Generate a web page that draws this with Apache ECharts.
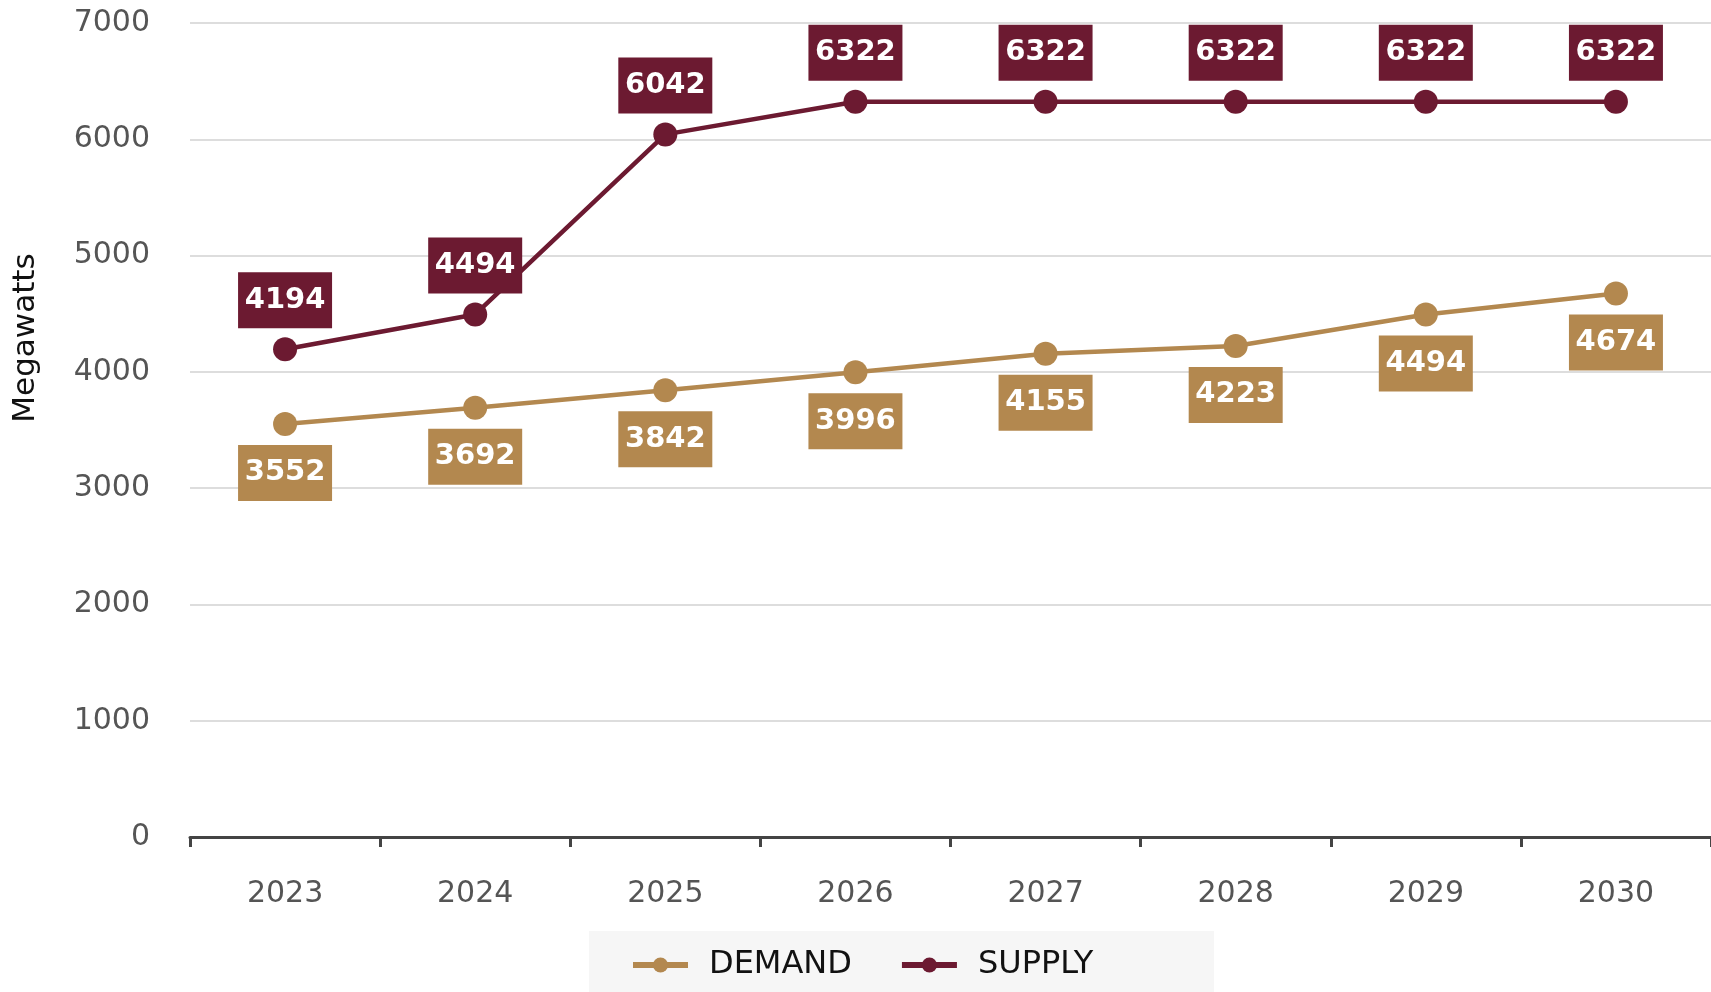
<!DOCTYPE html>
<html>
<head>
<meta charset="utf-8">
<script src="https://cdn.jsdelivr.net/npm/echarts@6/dist/echarts.min.js"></script>
<style>
html,body{margin:0;padding:0;background:#fff;}
#chart{width:1711px;height:992px;}
</style>
</head>
<body>
<div id="chart"></div>
<script>
const years = ['2023','2024','2025','2026','2027','2028','2029','2030'];
const demand = [3552, 3692, 3842, 3996, 4155, 4223, 4494, 4674];
const supply = [4194, 4494, 6042, 6322, 6322, 6322, 6322, 6322];
const yTicks = { min: 0, max: 7000, interval: 1000 };

const demandColor = '#b3884f';
const supplyColor = '#6c1a31';
const fontFamily = 'DejaVu Sans, sans-serif';

const chart = echarts.init(document.getElementById('chart'));
function labelCfg(color, pos) {
  return {
    show: true,
    position: pos,
    distance: 9,
    backgroundColor: color,
    color: '#fff',
    fontFamily: 'DejaVu Sans, sans-serif',
    fontWeight: 'bold',
    fontSize: 29,
    width: 78,
    height: 28,
    lineHeight: 28,
    align: 'center',
    padding: [14, 8]
  };
}
chart.setOption({
  animation: false,
  backgroundColor: '#fff',
  graphic: [
    {
      type: 'rect', left: 589, top: 931, z: -1,
      shape: { width: 625, height: 61 },
      style: { fill: '#f6f6f6' }
    },
    {
      type: 'text', x: 26, y: 338, rotation: Math.PI / 2,
      style: {
        text: 'Megawatts', fill: '#111',
        font: '31px DejaVu Sans, sans-serif',
        align: 'center', verticalAlign: 'middle'
      }
    }
  ],
  grid: { left: 190, right: 0, top: 23, bottom: 155 },
  legend: {
    left: 625, top: 944,
    itemWidth: 55, itemHeight: 19, itemGap: 47,
    textStyle: { fontFamily: fontFamily, fontSize: 32, color: '#111', padding: [0, 0, 0, 16] },
    data: [
      { name: 'DEMAND', lineStyle: { width: 6 } },
      { name: 'SUPPLY', lineStyle: { width: 6 } }
    ]
  },
  xAxis: {
    type: 'category',
    data: years,
    boundaryGap: true,
    axisLine: { lineStyle: { color: '#444', width: 3 } },
    axisTick: { show: true, length: 10, lineStyle: { color: '#444', width: 3 } },
    axisLabel: { margin: 42, fontFamily: fontFamily, fontSize: 30, color: '#555' }
  },
  yAxis: {
    type: 'value',
    min: yTicks.min, max: yTicks.max, interval: yTicks.interval,
    axisLine: { show: false },
    axisTick: { show: false },
    axisLabel: { margin: 40, fontFamily: fontFamily, fontSize: 30, color: '#555', formatter: v => String(v) },
    splitLine: { lineStyle: { color: '#dddddd', width: 2 } }
  },
  series: [
    {
      name: 'DEMAND', type: 'line', data: demand,
      symbol: 'circle', symbolSize: 24,
      itemStyle: { color: demandColor },
      lineStyle: { color: demandColor, width: 4.5 },
      label: labelCfg(demandColor, 'bottom')
    },
    {
      name: 'SUPPLY', type: 'line', data: supply,
      symbol: 'circle', symbolSize: 24,
      itemStyle: { color: supplyColor },
      lineStyle: { color: supplyColor, width: 4.5 },
      label: labelCfg(supplyColor, 'top')
    }
  ]
});
</script>
</body>
</html>
